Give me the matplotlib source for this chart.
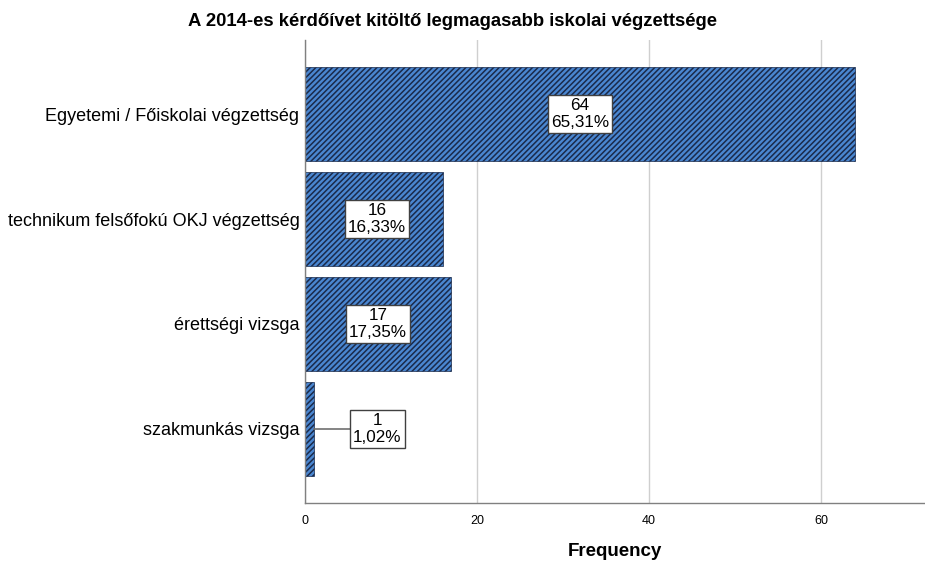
"""
Horizontal bar chart of highest school qualification (2014 questionnaire)
"""

import matplotlib
matplotlib.use('Agg')
import matplotlib.pyplot as plt

# Chart data
categories = ['Egyetemi / Főiskolai végzettség',
              'technikum felsőfokú OKJ végzettség',
              'érettségi vizsga',
              'szakmunkás vizsga']
counts = [64, 16, 17, 1]
percents = ['65,31%', '16,33%', '17,35%', '1,02%']
x_ticks = [0, 20, 40, 60]

plt.rcParams['font.family'] = ['Liberation Sans', 'DejaVu Sans']
plt.rcParams['hatch.linewidth'] = 1.1
plt.rcParams['hatch.color'] = '#111a2e'

fig = plt.figure(figsize=(9.25, 5.61), dpi=100)
ax = fig.add_axes([305 / 925, 58 / 561, 620 / 925, 463 / 561])

pos = list(range(len(categories)))

# Grid behind the bars
ax.set_axisbelow(True)
ax.grid(axis='x', color='#cfcfcf', linewidth=1)

ax.barh(pos, counts, height=0.9, color='#4a86d0', edgecolor='#1a2a4a',
        linewidth=0.5, hatch='//////')

# Boxed value labels, with a leader line when the bar is too short
for i, (c, p) in enumerate(zip(counts, percents)):
    lx = max(c / 2, 8.4)
    if c < 5:
        ax.plot([c, lx - 3], [i, i], color='#707070', linewidth=1.2, zorder=3)
    ax.text(lx, i, f'{c}\n{p}', ha='center', va='center', fontsize=12.3,
            linespacing=1.15, zorder=4,
            bbox=dict(boxstyle='square,pad=0.18', facecolor='white',
                      edgecolor='#404040', linewidth=1))

ax.set_xlim(0, 72.1)
ax.set_ylim(3.705, -0.705)
ax.set_yticks(pos)
ax.set_yticklabels(categories, fontsize=13)
ax.set_xticks(x_ticks)
ax.tick_params(axis='x', labelsize=9, length=0, pad=9)
ax.tick_params(axis='y', length=0, pad=4)

for side in ['top', 'right']:
    ax.spines[side].set_visible(False)
for side in ['left', 'bottom']:
    ax.spines[side].set_color('#808080')
    ax.spines[side].set_linewidth(1)

ax.set_xlabel('Frequency', fontsize=13.5, fontweight='bold', labelpad=11)
fig.text(453 / 925, 1 - 22 / 561,
         'A 2014-es kérdőívet kitöltő legmagasabb iskolai végzettsége',
         ha='center', va='center', fontsize=13.3, fontweight='bold')

fig.savefig('out.png', dpi=100)
